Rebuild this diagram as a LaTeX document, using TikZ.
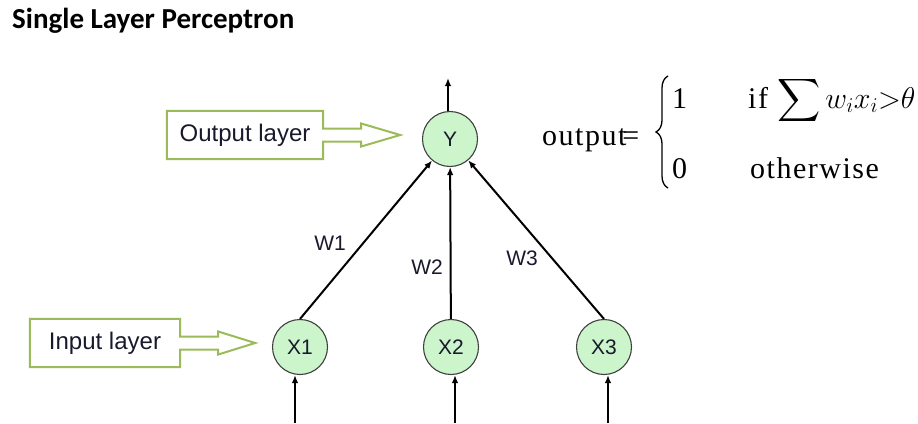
\RequirePackage{fix-cm}
\documentclass[tikz,border=0pt]{standalone}
\usepackage{amsmath}
\DeclareFontShape{OMX}{cmex}{m}{n}{<-> cmex10}{}
\usepackage{fontspec}
\setmainfont{Liberation Serif}
\setsansfont{Liberation Sans}
\newfontfamily\headfont{Carlito}
\newfontfamily\eqfont[LetterSpace=5]{Liberation Serif}
\usepackage{tikz}
\usetikzlibrary{arrows.meta,decorations.pathreplacing}

\definecolor{unitfill}{RGB}{204,245,204}
\definecolor{taggreen}{RGB}{155,187,89}
\definecolor{ink}{RGB}{25,25,45}

\begin{document}
\begin{tikzpicture}[x=1pt,y=-1pt,>={Latex[length=8pt,width=6.5pt]}]
\tikzstyle{unit}=[circle, draw=black!75, line width=1.1pt, fill=unitfill, minimum size=55pt,
                  inner sep=0pt, text=ink, font=\sffamily\fontsize{21}{21}\selectfont]
\tikzstyle{wire}=[->, line width=2pt]
\tikzstyle{weight}=[text=ink, font=\sffamily\fontsize{21}{21}\selectfont]
\tikzstyle{tag}=[minimum height=48pt, inner sep=0pt, text=ink,
                 font=\sffamily\fontsize{24}{24}\selectfont]
\tikzstyle{tagline}=[draw=taggreen, line width=2pt]
\tikzstyle{eq}=[anchor=base west, inner sep=0pt, font=\eqfont\fontsize{30}{30}\selectfont]

\useasboundingbox (0,0) rectangle (918,423);

\node[anchor=base west, inner sep=0pt, font=\headfont\bfseries\fontsize{29}{29}\selectfont]
      (title) at (12,28) {Single Layer Perceptron};

% units
\node[unit] (Y) at (450,139) {Y};
\node[unit] (X1) at (300,347) {X1};
\node[unit] (X2) at (451,347) {X2};
\node[unit] (X3) at (604,347) {X3};

\coordinate (out) at (448,78);
\coordinate (in1) at (295,423);
\coordinate (in2) at (455,423);
\coordinate (in3) at (608,423);

% weighted connections
\draw[wire] (X1.north) -- (Y);
\draw[wire] (X2) -- (Y);
\draw[wire] (X3.north) -- (Y);
\draw[wire] (Y.north -| out) -- (out);
\draw[wire] (in1) -- (in1 |- X1.south);
\draw[wire] (in2) -- (in2 |- X2.south);
\draw[wire] (in3) -- (in3 |- X3.south);

\node[weight] (w1) at (330,243) {W1};
\node[weight] (w2) at (427,267) {W2};
\node[weight] (w3) at (522,258) {W3};

% layer tags with block arrows
\node[tag, minimum width=156pt] (outtag) at (245,135) {Output layer};
\draw[tagline] (outtag.east) ++(0,-6.5) -- ++(38,0) -- ++(0,-5) -- ++(39,11.5)
      -- ++(-39,11.5) -- ++(0,-5) -- ++(-38,0) -- (outtag.south east)
      -- (outtag.south west) -- (outtag.north west) -- (outtag.north east) -- cycle;

\node[tag, minimum width=150pt] (intag) at (105,343) {Input layer};
\draw[tagline] (intag.east) ++(0,-6.5) -- ++(38,0) -- ++(0,-5) -- ++(37,11.5)
      -- ++(-37,11.5) -- ++(0,-5) -- ++(-38,0) -- (intag.south east)
      -- (intag.south west) -- (intag.north west) -- (intag.north east) -- cycle;

% threshold rule
\node[eq] (lhs) at (542,145) {output\kern-4pt=};
\node[eq] (one) at (672,108) {1};
\node[eq] (cond) at (748,108) {if $\displaystyle\sum w_i x_i{>}\theta$};
\node[eq] (zero) at (672,178) {0};
\node[eq] (other) at (750,178) {otherwise};
\draw[line width=1.3pt, decorate, decoration={brace, amplitude=12pt}] (668,188) -- (668,76);
\end{tikzpicture}
\end{document}
